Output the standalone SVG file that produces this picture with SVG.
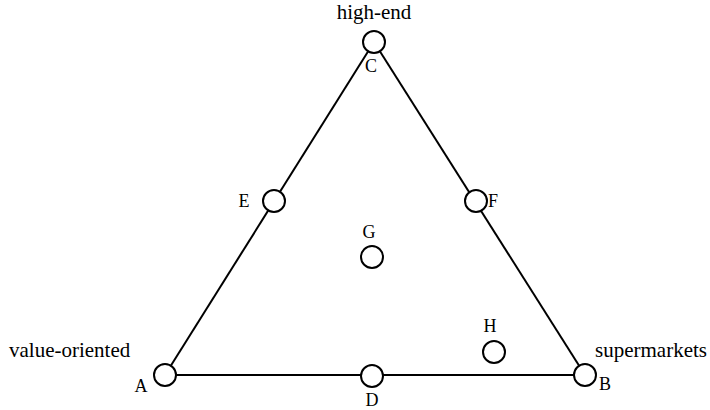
<svg xmlns="http://www.w3.org/2000/svg" width="710" height="410" viewBox="0 0 710 410">
<style>
.n{fill:#fff;stroke:#000;stroke-width:2}
.e{stroke:#000;stroke-width:2;fill:none}
.lbl{font-size:18px}
.cap{font-size:21px}
</style>
<rect width="710" height="410" fill="#fff"/>
<g id="connectors">
<line class="e" x1="165" y1="375" x2="374" y2="42"/>
<line class="e" x1="374" y1="42" x2="585" y2="375"/>
<line class="e" x1="165" y1="375" x2="585" y2="375"/>
</g>
<g font-family="Liberation Serif, DejaVu Serif, serif" fill="#000">
<g id="A"><circle class="n" cx="165" cy="375" r="11"/><text class="lbl" x="141" y="392" text-anchor="middle">A</text></g>
<g id="B"><circle class="n" cx="585" cy="375" r="11"/><text class="lbl" x="599" y="390">B</text></g>
<g id="C"><circle class="n" cx="374" cy="42" r="11"/><text class="lbl" x="371" y="72" text-anchor="middle">C</text></g>
<g id="D"><circle class="n" cx="372" cy="376" r="11"/><text class="lbl" x="372" y="406" text-anchor="middle">D</text></g>
<g id="E"><circle class="n" cx="274" cy="201" r="11"/><text class="lbl" x="244" y="207" text-anchor="middle">E</text></g>
<g id="F"><circle class="n" cx="476" cy="201" r="11"/><text class="lbl" x="488" y="207">F</text></g>
<g id="G"><circle class="n" cx="372" cy="257" r="11"/><text class="lbl" x="369" y="238" text-anchor="middle">G</text></g>
<g id="H"><circle class="n" cx="494" cy="352" r="11"/><text class="lbl" x="490" y="332" text-anchor="middle">H</text></g>
<g id="labels">
<text class="cap" x="374" y="19" text-anchor="middle">high-end</text>
<text class="cap" x="9" y="357">value-oriented</text>
<text class="cap" x="595" y="357">supermarkets</text>
</g>
</g>
</svg>
